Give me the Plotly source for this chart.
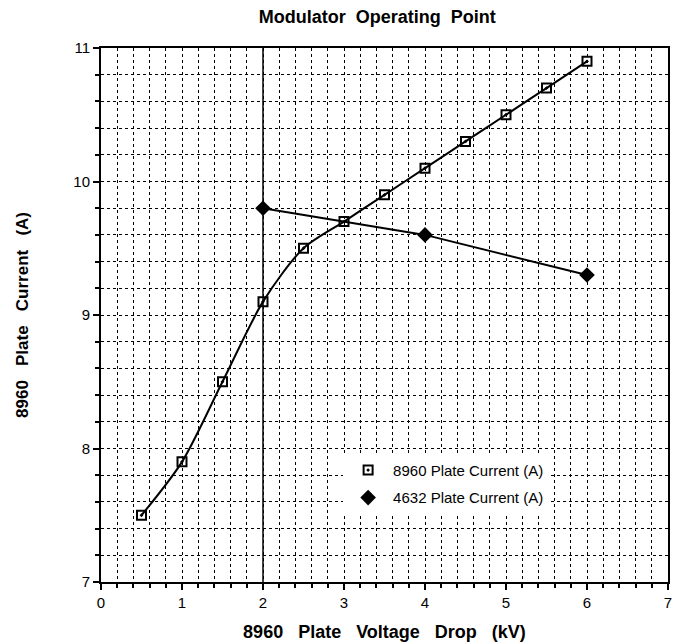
import plotly.graph_objects as go

x_8960 = [0.5, 1.0, 1.5, 2.0, 2.5, 3.0, 3.5, 4.0, 4.5, 5.0, 5.5, 6.0]
y_8960 = [7.5, 7.9, 8.5, 9.1, 9.5, 9.7, 9.9, 10.1, 10.3, 10.5, 10.7, 10.9]
x_4632 = [2.0, 4.0, 6.0]
y_4632 = [9.8, 9.6, 9.3]
x_ticks = [0, 1, 2, 3, 4, 5, 6, 7]
y_ticks = [7, 8, 9, 10, 11]

FONT = "Liberation Sans, Arial, sans-serif"

def spaced(s, n=3):
    return ("\u00a0" * n).join(s.split(" "))

fig = go.Figure()
# connecting lines (not in legend)
fig.add_trace(go.Scatter(
    x=x_8960, y=y_8960, mode="lines", showlegend=False, hoverinfo="skip",
    line=dict(color="black", width=2, shape="spline", smoothing=0.8),
))
fig.add_trace(go.Scatter(
    x=x_4632, y=y_4632, mode="lines", showlegend=False, hoverinfo="skip",
    line=dict(color="black", width=2),
))
# markers (in legend)
fig.add_trace(go.Scatter(
    x=x_8960, y=y_8960, mode="markers", name="8960 Plate Current (A)", legendgroup="a",
    marker=dict(symbol="square-open-dot", size=9, color="black", line=dict(width=2)),
))
fig.add_trace(go.Scatter(
    x=x_4632, y=y_4632, mode="markers", name="4632 Plate Current (A)", legendgroup="b",
    marker=dict(symbol="diamond", size=12, color="black"),
))

# dark printed grid line through the first 4632 point
fig.add_shape(type="line", xref="x", yref="paper", x0=x_4632[0], x1=x_4632[0], y0=0, y1=1,
              line=dict(color="black", width=1.5), layer="below")

axis_common = dict(
    showline=True, linecolor="black", linewidth=2, mirror=True,
    ticks="outside", tickcolor="black", ticklen=6, tickwidth=2,
    showgrid=True, gridcolor="black", griddash="dot", gridwidth=1,
    zeroline=False, automargin=False,
    tickfont=dict(family=FONT, size=15, color="black"),
)
minor = dict(dtick=0.2, showgrid=True, gridcolor="black", griddash="dot", gridwidth=1,
             ticks="outside", ticklen=4, tickcolor="black", tickwidth=1.5)

fig.update_xaxes(
    range=[0, 7], tickvals=x_ticks, **axis_common, minor=minor,
    title=dict(text="<b>" + spaced("8960 Plate Voltage Drop (kV)", 3) + "</b>",
               font=dict(family=FONT, size=18, color="black"), standoff=15),
)
fig.update_yaxes(
    range=[7, 11], tickvals=y_ticks, **axis_common, minor=minor,
    title=dict(text="<b>" + spaced("8960 Plate Current (A)", 3) + "</b>",
               font=dict(family=FONT, size=17, color="black"), standoff=40),
)

fig.update_layout(
    width=675, height=635,
    margin=dict(l=93, r=15, t=40, b=61),
    paper_bgcolor="white", plot_bgcolor="white",
    title=dict(text="<b>" + spaced("Modulator Operating Point", 2) + "</b>",
               x=0.547, xanchor="center", y=0.997, yanchor="top",
               font=dict(family=FONT, size=18, color="black")),
    showlegend=True,
    legend=dict(x=0.427, y=0.24, xanchor="left", yanchor="top", bgcolor="white",
                borderwidth=0, font=dict(family=FONT, size=15, color="black"),
                itemwidth=40, tracegroupgap=5),
)

fig.write_html("out.html")
